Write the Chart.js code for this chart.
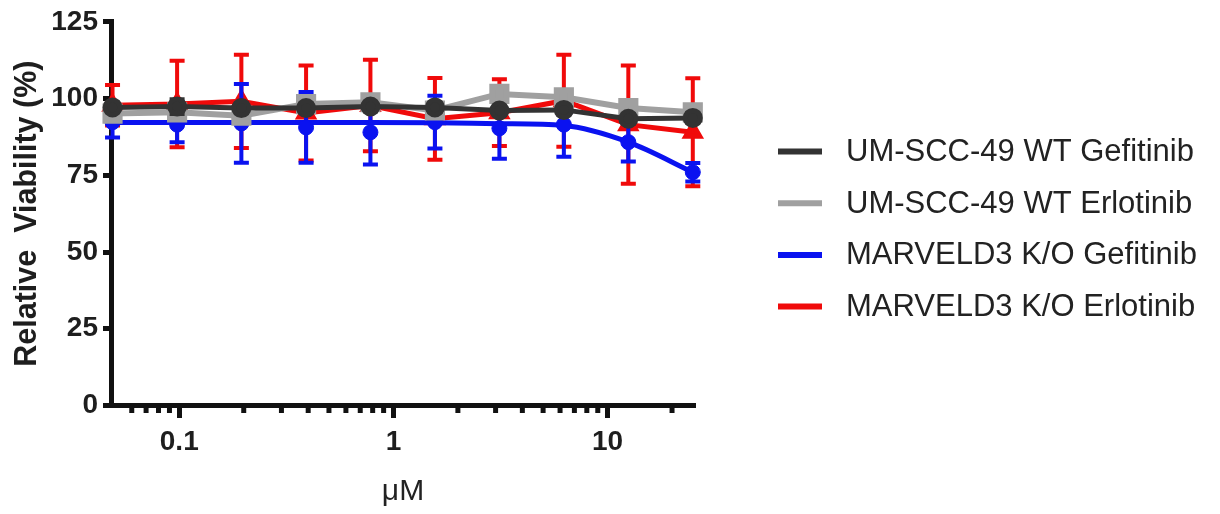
<!DOCTYPE html>
<html>
<head>
<meta charset="utf-8">
<script src="https://cdn.jsdelivr.net/npm/chart.js@4.4.1/dist/chart.umd.min.js"></script>
<style>
  html, body { margin: 0; padding: 0; background: #fff; }
  #wrap { width: 1220px; height: 514px; }
</style>
</head>
<body>
<div id="wrap"><canvas id="viabilityChart" width="1220" height="514"></canvas></div>
<script>
// doses in uM (2-fold dilution from 25)
const doses = [0.0488, 0.0977, 0.195, 0.391, 0.781, 1.5625, 3.125, 6.25, 12.5, 25];

const wtGefitinib = [97.1, 97.4, 96.9, 96.9, 97.4, 97.1, 96.1, 96.3, 93.4, 93.7];
const wtGefitinibSd = [1.5, 2.4, 1.5, 1.5, 1.5, 1.5, 1.5, 1.5, 1.5, 1.5];

const wtErlotinib = [95.1, 95.5, 94.4, 98.2, 98.8, 96.1, 101.5, 100.4, 96.9, 95.5];
const wtErlotinibSd = [2, 2, 2, 2, 2, 2, 2, 2, 2, 2];

const koGefitinib = [92.3, 91.5, 91.9, 90.6, 89.0, 92.3, 90.3, 91.5, 85.8, 76.0];
const koGefitinibSd = [5, 5.7, 12.8, 11.5, 10.5, 8.6, 9.9, 10.5, 6.3, 3];
// fitted curve drawn through the KO Gefitinib points
const koGefitinibFit = [92.2, 92.2, 92.2, 92.2, 92.2, 92.1, 91.8, 91.2, 85.8, 76.0];

const koErlotinib = [97.8, 98.2, 99.1, 95.3, 97.7, 93.4, 95.4, 99.3, 91.5, 89.0];
const koErlotinibSd = [6.6, 14.1, 15.2, 15.5, 14.9, 13.3, 10.9, 15, 19.3, 17.6];

const seriesLabels = [
  "UM-SCC-49 WT Gefitinib",
  "UM-SCC-49 WT Erlotinib",
  "MARVELD3 K/O Gefitinib",
  "MARVELD3 K/O Erlotinib",
];
const seriesColors = ["#333333", "#a0a0a0", "#0a12f0", "#f00a0a"];

const xTicks = [0.06, 0.07, 0.08, 0.09, 0.1, 0.2, 0.3, 0.4, 0.5, 0.6, 0.7, 0.8, 0.9,
  1, 2, 3, 4, 5, 6, 7, 8, 9, 10, 20];
const xMajor = [0.1, 1, 10];
const yTicks = [0, 25, 50, 75, 100, 125];

const toPoints = (vals) => doses.map((d, i) => ({ x: d, y: vals[i] }));
const AXIS = "#111111";
const FONT = "'Liberation Sans', Arial, sans-serif";

// error bars, drawn just under each dataset
const errorBars = {
  id: "errorBars",
  beforeDatasetDraw(chart, args) {
    const ds = chart.data.datasets[args.index];
    if (!ds.sd) return;
    const ctx = chart.ctx;
    const y = chart.scales.y;
    ctx.save();
    ctx.strokeStyle = ds.borderColor;
    ctx.lineWidth = 4;
    args.meta.data.forEach((pt, i) => {
      const v = ds.data[i].y;
      const top = y.getPixelForValue(v + ds.sd[i]);
      const bot = y.getPixelForValue(v - ds.sd[i]);
      ctx.beginPath();
      ctx.moveTo(pt.x, top);
      ctx.lineTo(pt.x, bot);
      ctx.moveTo(pt.x - 7.5, top);
      ctx.lineTo(pt.x + 7.5, top);
      ctx.moveTo(pt.x - 7.5, bot);
      ctx.lineTo(pt.x + 7.5, bot);
      ctx.stroke();
    });
    ctx.restore();
  },
};

// short minor ticks on the log axis
const minorTicks = {
  id: "minorTicks",
  afterDraw(chart) {
    const ctx = chart.ctx;
    const x = chart.scales.x;
    const base = chart.chartArea.bottom;
    ctx.save();
    ctx.strokeStyle = AXIS;
    ctx.lineWidth = 5;
    xTicks.filter((v) => !xMajor.includes(v)).forEach((v) => {
      const px = x.getPixelForValue(v);
      ctx.beginPath();
      ctx.moveTo(px, base);
      ctx.lineTo(px, base + 7.5);
      ctx.stroke();
    });
    ctx.restore();
  },
};

// legend on the right
const sideLegend = {
  id: "sideLegend",
  afterDraw(chart) {
    const ctx = chart.ctx;
    ctx.save();
    ctx.font = "31px " + FONT;
    ctx.textBaseline = "middle";
    ctx.textAlign = "left";
    seriesLabels.forEach((label, i) => {
      const yy = 151.5 + i * 51.7;
      ctx.strokeStyle = seriesColors[i];
      ctx.lineWidth = 6;
      ctx.beginPath();
      ctx.moveTo(778, yy);
      ctx.lineTo(822, yy);
      ctx.stroke();
      ctx.fillStyle = "#222222";
      ctx.fillText(label, 846, yy + 1);
    });
    ctx.restore();
  },
};

const ctx = document.getElementById("viabilityChart").getContext("2d");

new Chart(ctx, {
  type: "line",
  data: {
    datasets: [
      {
        label: seriesLabels[0],
        data: toPoints(wtGefitinib),
        sd: wtGefitinibSd,
        borderColor: seriesColors[0],
        backgroundColor: seriesColors[0],
        borderWidth: 5,
        pointStyle: "circle",
        pointRadius: 7.5,
        tension: 0,
        order: 0,
      },
      {
        label: seriesLabels[1],
        data: toPoints(wtErlotinib),
        sd: wtErlotinibSd,
        borderColor: seriesColors[1],
        backgroundColor: seriesColors[1],
        borderWidth: 6,
        pointStyle: "rect",
        pointRadius: 10,
        tension: 0,
        order: 1,
      },
      {
        label: seriesLabels[2],
        data: toPoints(koGefitinib),
        sd: koGefitinibSd,
        borderColor: seriesColors[2],
        backgroundColor: seriesColors[2],
        showLine: false,
        pointStyle: "circle",
        pointRadius: 7.5,
        order: 2,
      },
      {
        label: "fit",
        data: toPoints(koGefitinibFit),
        borderColor: seriesColors[2],
        borderWidth: 5,
        pointRadius: 0,
        cubicInterpolationMode: "monotone",
        order: 3,
      },
      {
        label: seriesLabels[3],
        data: toPoints(koErlotinib),
        sd: koErlotinibSd,
        borderColor: seriesColors[3],
        backgroundColor: seriesColors[3],
        borderWidth: 5,
        pointStyle: "triangle",
        pointRadius: 8,
        tension: 0,
        order: 4,
      },
    ],
  },
  options: {
    responsive: false,
    animation: false,
    clip: false,
    layout: { padding: { left: 0, top: 21, right: 525, bottom: 0 } },
    plugins: {
      legend: { display: false },
      tooltip: { enabled: false },
    },
    scales: {
      x: {
        type: "logarithmic",
        min: 0.048,
        max: 25.6,
        afterFit: (scale) => { scale.height = 108.5; },
        afterBuildTicks: (scale) => {
          scale.ticks = xTicks.map((v) => ({ value: v, major: xMajor.includes(v) }));
        },
        border: { display: true, color: AXIS, width: 5 },
        grid: {
          display: true,
          drawOnChartArea: false,
          drawTicks: true,
          tickLength: 12.5,
          tickWidth: 5,
          tickColor: (c) => (c.tick && xMajor.includes(c.tick.value) ? AXIS : "rgba(0,0,0,0)"),
        },
        ticks: {
          autoSkip: false,
          maxRotation: 0,
          padding: 7,
          color: "#1e1e1e",
          font: { family: FONT, size: 28, weight: "bold" },
          callback: (v) => (xMajor.includes(v) ? String(v) : ""),
        },
        title: {
          display: true,
          text: "μM",
          color: "#222222",
          padding: { top: 0, bottom: 4 },
          font: { family: FONT, size: 30, weight: "normal" },
        },
      },
      y: {
        min: 0,
        max: 125,
        afterFit: (scale) => { scale.width = 111; },
        afterBuildTicks: (scale) => {
          scale.ticks = yTicks.map((v) => ({ value: v }));
        },
        border: { display: true, color: AXIS, width: 5 },
        grid: {
          display: true,
          drawOnChartArea: false,
          drawTicks: true,
          tickLength: 8,
          tickWidth: 5,
          tickColor: AXIS,
        },
        ticks: {
          padding: 5,
          color: "#1e1e1e",
          font: { family: FONT, size: 28, weight: "bold" },
        },
        title: {
          display: true,
          text: "Relative  Viability (%)",
          color: "#1e1e1e",
          padding: { top: 9, bottom: 0 },
          font: { family: FONT, size: 30.5, weight: "bold" },
        },
      },
    },
  },
  plugins: [errorBars, minorTicks, sideLegend],
});
</script>
</body>
</html>
